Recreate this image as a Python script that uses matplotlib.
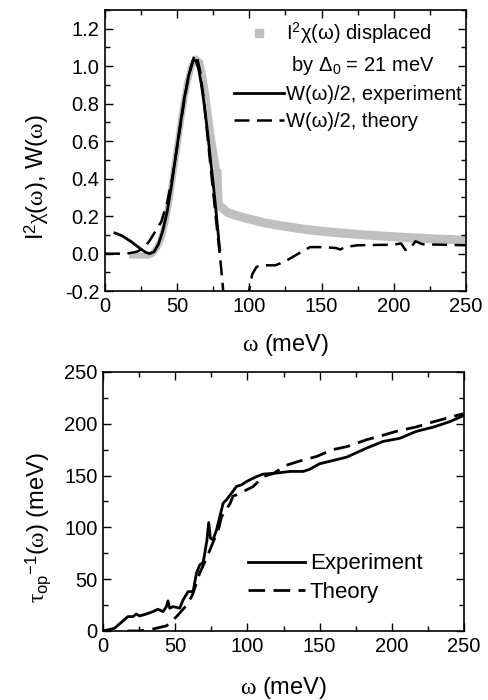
import numpy as np
import matplotlib
matplotlib.use("Agg")
import matplotlib.pyplot as plt
from matplotlib.lines import Line2D
from matplotlib.ticker import MultipleLocator, FormatStrFormatter

plt.rcParams["font.family"] = ["Liberation Sans", "DejaVu Sans"]
plt.rcParams["mathtext.fontset"] = "custom"
plt.rcParams["mathtext.rm"] = "Liberation Sans"
plt.rcParams["mathtext.it"] = "Liberation Serif"

# --- top panel: I^2 chi (displaced) and W(omega)/2 ---
chi_w = [19, 25, 30, 33, 36, 39, 42, 45, 48, 51, 54, 57, 60, 63, 66, 68, 70, 72,
         74, 76, 77.5, 78.5, 85, 90, 100, 110, 125, 140, 160, 180, 200, 225, 250]
chi_v = [-0.01, -0.01, -0.01, 0.0, 0.03, 0.08, 0.17, 0.30, 0.46, 0.62, 0.78, 0.91,
         1.00, 1.04, 1.02, 0.95, 0.85, 0.73, 0.62, 0.52, 0.45, 0.26, 0.22, 0.205,
         0.185, 0.165, 0.145, 0.128, 0.112, 0.10, 0.09, 0.08, 0.072]
CHI_SPLIT = 20  # index where the peak ends and the tail starts

wexp_w = [7, 12, 18, 24, 28, 31, 34, 37, 40, 43, 46, 49, 52, 55, 58, 61, 63, 65,
          67, 69, 71, 73, 75, 77, 79.5]
wexp_v = [0.11, 0.095, 0.065, 0.03, 0.008, 0.0, 0.01, 0.05, 0.12, 0.22, 0.36,
          0.52, 0.68, 0.83, 0.95, 1.03, 1.03, 0.98, 0.89, 0.78, 0.65, 0.51, 0.37,
          0.22, 0.02]

wth_w = [0, 15, 22, 27, 31, 35, 39, 43, 47, 51, 55, 58, 62, 64, 66, 68, 70, 72,
         74, 76, 78, 79.5, 81, 82.5, np.nan,
         98.5, 102, 105, 108, 118, 125, 135, 142, 152, 160, 163, 166, 175, 200,
         205, 208, 211, 215, 220, 250]
wth_v = [0.0, 0.0, 0.01, 0.03, 0.07, 0.12, 0.17, 0.27, 0.42, 0.62, 0.82, 0.95,
         1.06, 1.04, 0.97, 0.85, 0.70, 0.55, 0.40, 0.25, 0.10, 0.0, -0.12, -0.25,
         np.nan,
         -0.25, -0.11, -0.07, -0.062, -0.062, -0.04, 0.005, 0.035, 0.035, 0.03,
         0.022, 0.035, 0.045, 0.048, 0.055, 0.02, 0.025, 0.066, 0.05, 0.045]

# --- bottom panel: optical scattering rate ---
tau_exp_w = [0, 8, 17.3, 20.8, 23, 25.4, 30, 34.7, 38, 41.6, 43.9, 45, 46.2, 48.5,
             53.1, 55.5, 58.9, 62.4, 64.7, 67, 69.3, 70.5, 72, 73.2, 74.4, 76.2,
             78.6, 80.9, 83.2, 85.5, 89, 92.4, 95.9, 99.4, 106.3, 110.9, 120,
             129.4, 138.6, 143, 150, 159.4, 168.7, 182.5, 194, 205.6, 217, 228.7,
             240, 249.5]
tau_exp_v = [0, 2.6, 13.9, 13.9, 16.4, 14.5, 16.4, 18.7, 21, 18.7, 23.5, 29, 22,
             23.5, 22, 30, 38, 38, 55.7, 63.8, 66, 75, 88, 104.7, 89.6, 88, 97.6,
             110.5, 123.4, 126.6, 133, 139.5, 141, 144.3, 149, 151.4, 152.4, 154,
             154, 156, 161.4, 164.6, 167.8, 176.5, 183, 186, 192.7, 196.8, 202,
             207.8]

tau_th_w = [17, 24, 32, 41, 44, 51, 58, 62, 67, 69, 74, 76, 80, 82, 88, 90, 95,
            104, 111, 118, 127, 136, 148, 159, 169, 182.5, 194, 203, 217, 229,
            249.5]
tau_th_v = [0, 0, 1, 4, 5, 14, 25, 35, 56, 62, 78, 85, 98, 110, 123, 130, 133,
            139.5, 149, 152, 160, 164, 168.5, 175, 178, 184.6, 189, 192.7, 197,
            202, 209.7]

GRAY = "#c0c0c0"
DASH = (0, (6, 3))


def style_axes(ax):
    ax.tick_params(which="both", direction="in", top=True, right=True,
                   labelsize=14.5, width=1)
    ax.tick_params(which="major", length=6, pad=4)
    ax.tick_params(which="minor", length=3.5)
    for s in ax.spines.values():
        s.set_linewidth(1.2)


fig = plt.figure(figsize=(4.88, 7.0), dpi=100)

ax1 = fig.add_axes([0.215, 0.584, 0.740, 0.402])
ax1.plot(chi_w[:CHI_SPLIT + 1], chi_v[:CHI_SPLIT + 1], color=GRAY, lw=4.5, zorder=1)
ax1.plot(chi_w[CHI_SPLIT:], chi_v[CHI_SPLIT:], color=GRAY, lw=6.5,
         solid_capstyle="butt", zorder=1)
ax1.plot(wexp_w, wexp_v, color="black", lw=2, zorder=3)
ax1.plot(wth_w, wth_v, color="black", lw=1.8, ls=DASH, zorder=2)
ax1.set_xlim(0, 250)
ax1.set_ylim(-0.2, 1.3)
ax1.xaxis.set_major_locator(MultipleLocator(50))
ax1.xaxis.set_minor_locator(MultipleLocator(25))
ax1.yaxis.set_major_locator(MultipleLocator(0.2))
ax1.yaxis.set_minor_locator(MultipleLocator(0.1))
ax1.yaxis.set_major_formatter(FormatStrFormatter("%.1f"))
style_axes(ax1)
ax1.set_xlabel("$\\omega$ (meV)", fontsize=17, labelpad=12)
ax1.set_ylabel("I$^{2}\\chi(\\omega)$, W($\\omega$)", fontsize=17, labelpad=10)
ax1.yaxis.label.set_y(0.405)

handles = [
    Line2D([], [], color=GRAY, marker="s", ls="none", markersize=6),
    Line2D([], [], color="none"),
    Line2D([], [], color="black", lw=2),
    Line2D([], [], color="black", lw=1.8, ls=DASH),
]
labels = ["I$^{2}$χ(ω) displaced", " by Δ$_{0}$ = 21 meV",
          "W(ω)/2, experiment", "W(ω)/2, theory"]
ax1.legend(handles, labels, loc="upper right", frameon=False, fontsize=14.5,
           handlelength=2.5, handletextpad=0.1, labelspacing=0.4,
           borderaxespad=0.0, borderpad=0.2, bbox_to_anchor=(1.0, 0.975))

ax2 = fig.add_axes([0.211, 0.0986, 0.740, 0.370])
ax2.plot(tau_exp_w, tau_exp_v, color="black", lw=2)
ax2.plot(tau_th_w, tau_th_v, color="black", lw=2, ls=DASH)
ax2.set_xlim(0, 250)
ax2.set_ylim(0, 250)
ax2.xaxis.set_major_locator(MultipleLocator(50))
ax2.xaxis.set_minor_locator(MultipleLocator(25))
ax2.yaxis.set_major_locator(MultipleLocator(50))
ax2.yaxis.set_minor_locator(MultipleLocator(25))
style_axes(ax2)
ax2.set_xlabel("$\\omega$ (meV)", fontsize=17, labelpad=14)
ax2.set_ylabel("$\\tau_{\\mathrm{op}}{}^{-1}(\\omega)$ (meV)", fontsize=17,
               labelpad=8)
ax2.yaxis.label.set_y(0.40)
ax2.legend(["Experiment", "Theory"], loc="lower right", frameon=False,
           fontsize=16, handlelength=2.6, handletextpad=0.2, labelspacing=0.35,
           bbox_to_anchor=(0.94, 0.03))

fig.savefig("out.png", dpi=100)
